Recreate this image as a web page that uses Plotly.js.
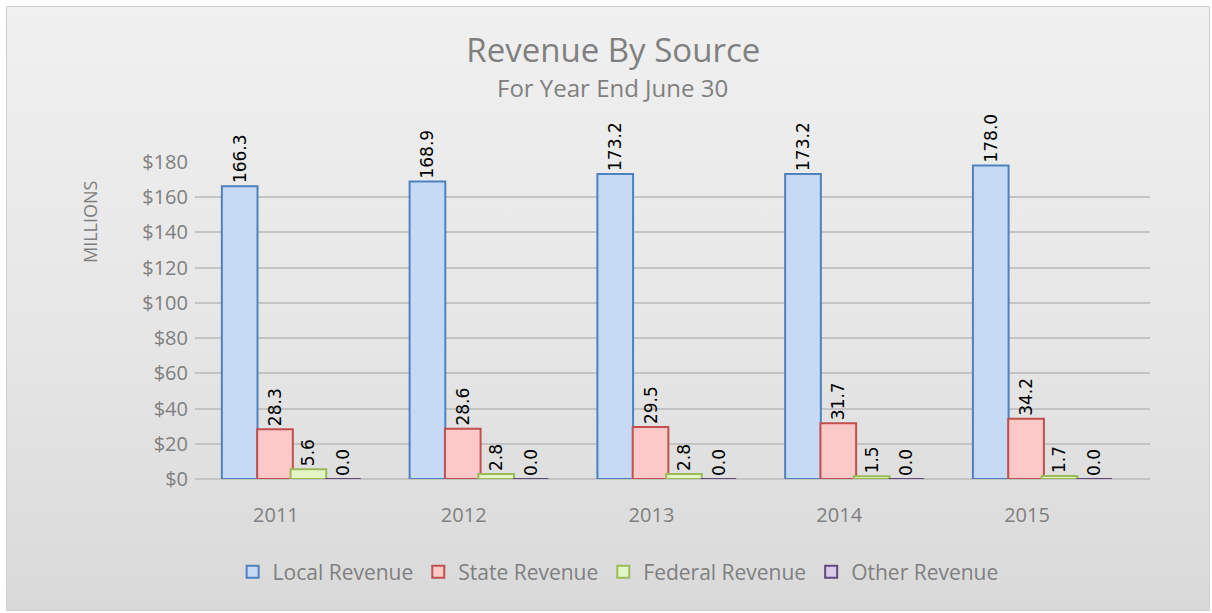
<!DOCTYPE html>
<html>
<head>
<meta charset="utf-8">
<script src="https://cdn.plot.ly/plotly-3.0.1.min.js"></script>
<style>
  html, body { margin: 0; padding: 0; background: #ffffff; }
  #frame { position: absolute; left: 6px; top: 6px; width: 1204px; height: 605px;
           border: 1px solid #d0d0d0; box-sizing: border-box;
           background: linear-gradient(to bottom, #f0f0f0 0%, #e6e6e6 55%, #d9d9d9 100%); }
  #chart { position: absolute; left: 0; top: 0; width: 1212px; height: 613px; }
</style>
</head>
<body>
<div id="frame"></div>
<div id="chart"></div>
<script>
const years = ['2011', '2012', '2013', '2014', '2015'];
const localRevenue   = [166.3, 168.9, 173.2, 173.2, 178.0];
const stateRevenue   = [28.3, 28.6, 29.5, 31.7, 34.2];
const federalRevenue = [5.6, 2.8, 2.8, 1.5, 1.7];
const otherRevenue   = [0.0, 0.0, 0.0, 0.0, 0.0];
const yTickVals = [0, 20, 40, 60, 80, 100, 120, 140, 160, 180];
const yTickText = ['$0', '$20', '$40', '$60', '$80', '$100', '$120', '$140', '$160', '$180'];

const labelFont = { family: 'DejaVu Sans, Verdana, sans-serif', size: 17, color: '#000000' };
const BAR_W = 0.19;

function series(name, values, fill, line, offset) {
  return {
    type: 'bar', name: name, x: years, y: values,
    width: BAR_W, offset: offset,
    marker: { color: fill, line: { color: line, width: 2 } },
    text: values.map(v => v.toFixed(1)),
    textposition: 'outside', textangle: -90,
    textfont: labelFont, outsidetextfont: labelFont,
    constraintext: 'none', cliponaxis: false,
    hoverinfo: 'skip'
  };
}

const data = [
  series('Local Revenue', localRevenue, '#c6daf6', '#4f81bd', -0.288),
  series('State Revenue', stateRevenue, '#fcc9c9', '#c0504d', -0.100),
  series('Federal Revenue', federalRevenue, '#e3f4c6', '#9bbb59', 0.078),
  series('Other Revenue', otherRevenue, '#d8cbe8', '#604a7b', 0.262)
];

const grayFont = (s) => ({ family: 'Open Sans, Lato, sans-serif', size: s, color: '#808080' });

const layout = {
  width: 1212, height: 613,
  margin: { l: 195, r: 62, t: 162, b: 134, pad: 0 },
  paper_bgcolor: 'rgba(0,0,0,0)',
  plot_bgcolor: 'rgba(0,0,0,0)',
  barmode: 'overlay',
  showlegend: true,
  title: {
    text: 'Revenue By Source',
    font: grayFont(33),
    xref: 'container', x: 0.506, xanchor: 'center',
    yref: 'container', y: 1 - 50 / 613, yanchor: 'middle'
  },
  xaxis: {
    type: 'category',
    range: [-0.431, 4.655],
    showgrid: false, zeroline: false, showline: false,
    ticks: '', tickfont: grayFont(20),
    ticklabelstandoff: 22
  },
  yaxis: {
    range: [0, 180],
    tickvals: yTickVals, ticktext: yTickText,
    tickfont: grayFont(20),
    showgrid: true, gridcolor: '#c4c4c4', gridwidth: 2,
    zeroline: true, zerolinecolor: '#c4c4c4', zerolinewidth: 2,
    showline: false, ticks: '', ticklabelstandoff: 6
  },
  legend: {
    orientation: 'h',
    xref: 'container', x: 0.51, xanchor: 'center',
    yref: 'container', y: 1 - 572 / 613, yanchor: 'middle',
    font: grayFont(21),
    itemwidth: 30, tracegroupgap: 0,
    bgcolor: 'rgba(0,0,0,0)'
  },
  annotations: [
    {
      text: 'For Year End June 30',
      xref: 'paper', yref: 'paper',
      x: (612 - 195) / 955, y: (479 - 88) / 317,
      xanchor: 'center', yanchor: 'middle',
      showarrow: false, font: grayFont(24)
    },
    {
      text: 'MILLIONS',
      xref: 'paper', yref: 'paper',
      x: (90 - 195) / 955, y: (479 - 222) / 317,
      xanchor: 'center', yanchor: 'middle', textangle: -90,
      showarrow: false, font: grayFont(18)
    }
  ]
};

Plotly.newPlot('chart', data, layout, { displayModeBar: false, staticPlot: true });
</script>
</body>
</html>
